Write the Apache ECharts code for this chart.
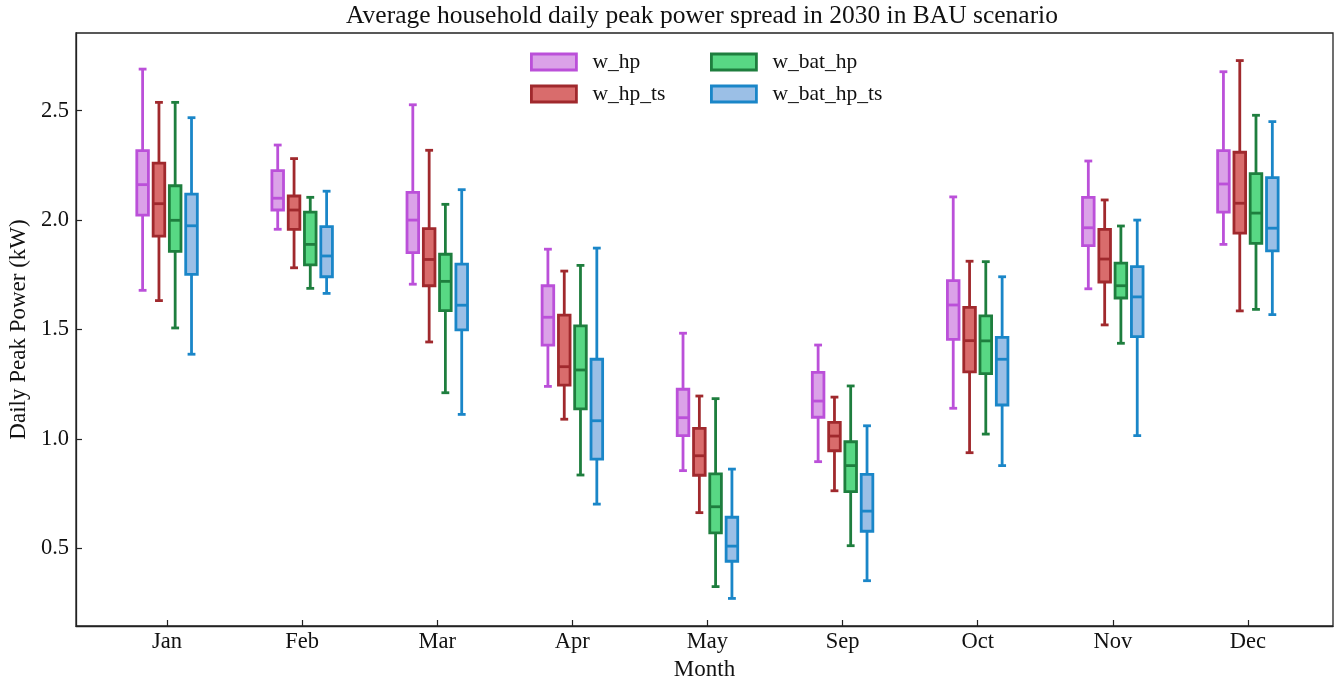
<!DOCTYPE html>
<html>
<head>
<meta charset="utf-8">
<script src="https://cdn.jsdelivr.net/npm/echarts@6/dist/echarts.min.js"></script>
<style>
  html, body { margin: 0; padding: 0; background: #fff; }
  #chart { width: 1335px; height: 679px; }
</style>
</head>
<body>
<div id="chart"></div>
<script>
// Month categories shown on the x axis
const months = ['Jan', 'Feb', 'Mar', 'Apr', 'May', 'Sep', 'Oct', 'Nov', 'Dec'];

// Box statistics per month: [lower whisker, Q1, median, Q3, upper whisker] (kW)
const w_hp = [
  [1.679, 2.023, 2.162, 2.317, 2.690],
  [1.958, 2.046, 2.100, 2.226, 2.343],
  [1.707, 1.851, 2.000, 2.127, 2.527],
  [1.240, 1.429, 1.556, 1.700, 1.867],
  [0.855, 1.015, 1.097, 1.227, 1.483],
  [0.896, 1.099, 1.173, 1.304, 1.429],
  [1.140, 1.455, 1.612, 1.723, 2.106],
  [1.686, 1.883, 1.965, 2.104, 2.270],
  [1.889, 2.036, 2.165, 2.317, 2.678]
];
const w_hp_ts = [
  [1.632, 1.927, 2.075, 2.260, 2.538],
  [1.782, 1.958, 2.046, 2.110, 2.281],
  [1.443, 1.700, 1.820, 1.961, 2.319],
  [1.090, 1.246, 1.330, 1.566, 1.767],
  [0.663, 0.834, 0.923, 1.048, 1.196],
  [0.763, 0.946, 1.013, 1.076, 1.191],
  [0.937, 1.306, 1.449, 1.601, 1.812],
  [1.521, 1.717, 1.822, 1.958, 2.092],
  [1.585, 1.940, 2.077, 2.310, 2.729]
];
const w_bat_hp = [
  [1.507, 1.857, 1.999, 2.157, 2.538],
  [1.688, 1.795, 1.889, 2.036, 2.104],
  [1.211, 1.586, 1.720, 1.844, 2.072],
  [0.835, 1.137, 1.315, 1.517, 1.793],
  [0.325, 0.571, 0.690, 0.840, 1.184],
  [0.512, 0.759, 0.878, 0.987, 1.242],
  [1.022, 1.298, 1.448, 1.562, 1.810],
  [1.437, 1.644, 1.700, 1.803, 1.973],
  [1.592, 1.894, 2.032, 2.212, 2.479]
];
const w_bat_hp_ts = [
  [1.387, 1.752, 1.974, 2.119, 2.468],
  [1.665, 1.741, 1.836, 1.970, 2.132],
  [1.112, 1.498, 1.611, 1.799, 2.139],
  [0.702, 0.908, 1.083, 1.364, 1.872],
  [0.271, 0.441, 0.510, 0.642, 0.862],
  [0.352, 0.578, 0.670, 0.838, 1.060],
  [0.878, 1.155, 1.364, 1.464, 1.741],
  [1.015, 1.467, 1.649, 1.787, 2.000],
  [1.568, 1.859, 1.963, 2.194, 2.450]
];

// Y axis tick values
const yTicks = [0.5, 1.0, 1.5, 2.0, 2.5];

const seriesDefs = [
  { name: 'w_hp',        data: w_hp,        fill: '#dba2e8', edge: '#bb50d9' },
  { name: 'w_hp_ts',     data: w_hp_ts,     fill: '#d96c6c', edge: '#a0292d' },
  { name: 'w_bat_hp',    data: w_bat_hp,    fill: '#58d884', edge: '#1e7e3e' },
  { name: 'w_bat_hp_ts', data: w_bat_hp_ts, fill: '#9bbfe6', edge: '#1a86c8' }
];

// Horizontal offset of each scenario's box within a month group (axis units)
const groupOffsets = [-0.181, -0.060, 0.060, 0.181];
const boxWidth = 0.086;
const capWidth = 0.058;

const serif = 'Liberation Serif, Times New Roman, serif';

function makeRenderer(idx, edge, fill) {
  return function (params, api) {
    const x = api.value(0) + groupOffsets[idx];
    const lo = api.coord([x, api.value(1)]);
    const q1 = api.coord([x, api.value(2)]);
    const md = api.coord([x, api.value(3)]);
    const q3 = api.coord([x, api.value(4)]);
    const hi = api.coord([x, api.value(5)]);
    const hw = api.size([boxWidth, 0])[0] / 2;
    const cw = api.size([capWidth, 0])[0] / 2;
    const lineStyle = { stroke: edge, lineWidth: 2.8 };
    return {
      type: 'group',
      children: [
        { type: 'line', shape: { x1: lo[0], y1: lo[1], x2: q1[0], y2: q1[1] }, style: lineStyle },
        { type: 'line', shape: { x1: q3[0], y1: q3[1], x2: hi[0], y2: hi[1] }, style: lineStyle },
        { type: 'line', shape: { x1: lo[0] - cw, y1: lo[1], x2: lo[0] + cw, y2: lo[1] }, style: lineStyle },
        { type: 'line', shape: { x1: hi[0] - cw, y1: hi[1], x2: hi[0] + cw, y2: hi[1] }, style: lineStyle },
        { type: 'rect', shape: { x: q3[0] - hw, y: q3[1], width: hw * 2, height: q1[1] - q3[1] },
          style: { fill: fill, stroke: edge, lineWidth: 2.8 } },
        { type: 'line', shape: { x1: md[0] - hw, y1: md[1], x2: md[0] + hw, y2: md[1] }, style: lineStyle }
      ]
    };
  };
}

const chart = echarts.init(document.getElementById('chart'), null, { renderer: 'canvas' });

const series = seriesDefs.map((s, i) => ({
  name: s.name,
  type: 'custom',
  renderItem: makeRenderer(i, s.edge, s.fill),
  itemStyle: { color: s.fill, borderColor: s.edge, borderWidth: 2.5 },
  encode: { x: 0, y: [1, 2, 3, 4, 5] },
  data: s.data.map((d, m) => [m].concat(d)),
  animation: false
}));

function legendItems(names) {
  return names.map(n => {
    const s = seriesDefs.find(d => d.name === n);
    return { name: n, itemStyle: { color: s.fill, borderColor: s.edge, borderWidth: 2.8 } };
  });
}

const legendCommon = {
  orient: 'vertical',
  top: 51,
  padding: 0,
  itemWidth: 45,
  itemHeight: 16,
  itemGap: 10,
  icon: 'rect',
  selectedMode: false,
  textStyle: { fontFamily: serif, fontSize: 21.5, color: '#111', padding: [0, 0, 0, 11] }
};

chart.setOption({
  backgroundColor: '#fff',
  animation: false,
  title: {
    text: 'Average household daily peak power spread in 2030 in BAU scenario',
    left: 702, top: 3, textAlign: 'center', padding: 0,
    textStyle: { fontFamily: serif, fontSize: 25.5, fontWeight: 'normal', color: '#111' }
  },
  legend: [
    Object.assign({}, legendCommon, { left: 530, data: legendItems(['w_hp', 'w_hp_ts']) }),
    Object.assign({}, legendCommon, { left: 710, data: legendItems(['w_bat_hp', 'w_bat_hp_ts']) })
  ],
  grid: {
    left: 76, right: 2, top: 33, bottom: 53,
    outerBoundsMode: 'none',
    containLabel: false,
    show: true, borderColor: '#222', borderWidth: 1.3, backgroundColor: 'transparent'
  },
  xAxis: {
    type: 'value',
    min: -0.674,
    max: 8.63,
    name: 'Month',
    nameLocation: 'middle',
    nameGap: 29,
    nameTextStyle: { fontFamily: serif, fontSize: 23, color: '#111' },
    splitLine: { show: false },
    axisLine: { onZero: false, lineStyle: { color: '#222', width: 1.3 } },
    axisTick: { inside: true, length: 6, lineStyle: { color: '#222', width: 1.2 },
                customValues: months.map((m, i) => i) },
    axisLabel: { fontFamily: serif, fontSize: 22.5, color: '#111', margin: 5,
                 customValues: months.map((m, i) => i),
                 formatter: v => months[Math.round(v)] }
  },
  yAxis: {
    type: 'value',
    min: 0.145,
    max: 2.855,
    name: 'Daily Peak Power (kW)',
    nameLocation: 'middle',
    nameGap: 42,
    nameTextStyle: { fontFamily: serif, fontSize: 23, color: '#111' },
    splitLine: { show: false },
    axisLine: { show: true, onZero: false, lineStyle: { color: '#222', width: 1.3 } },
    axisTick: { show: true, inside: true, length: 6, lineStyle: { color: '#222', width: 1.2 },
                customValues: yTicks },
    axisLabel: { fontFamily: serif, fontSize: 22.5, color: '#111', margin: 7,
                 customValues: yTicks, formatter: v => v.toFixed(1) }
  },
  series: series
});
</script>
</body>
</html>
